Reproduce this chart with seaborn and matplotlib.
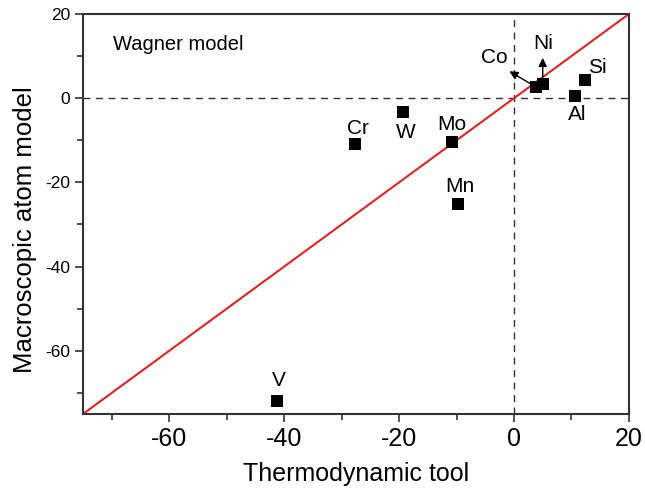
import matplotlib
matplotlib.use('Agg')
import matplotlib.pyplot as plt
from matplotlib.ticker import MultipleLocator
import seaborn as sns
import pandas as pd

elements = ['V', 'Cr', 'W', 'Mo', 'Mn', 'Co', 'Ni', 'Al', 'Si']
thermo_tool = [-41.2, -27.7, -19.3, -10.8, -9.7, 3.9, 5.0, 10.7, 12.4]
macro_atom = [-71.9, -10.9, -3.3, -10.4, -25.1, 2.6, 3.4, 0.6, 4.3]

df = pd.DataFrame({'element': elements, 'x': thermo_tool, 'y': macro_atom})

sns.set_style('ticks')
plt.rcParams['font.family'] = ['Liberation Sans', 'DejaVu Sans']
plt.rcParams['axes.unicode_minus'] = False
plt.rcParams['text.color'] = 'black'
plt.rcParams['axes.labelcolor'] = 'black'
plt.rcParams['xtick.labelcolor'] = 'black'
plt.rcParams['ytick.labelcolor'] = 'black'

fig = plt.figure(figsize=(6.45, 5.01), dpi=100)
ax = fig.add_axes([0.129, 0.174, 0.846, 0.798])

ax.axhline(0, color='#333333', lw=1, ls=(0, (5, 4)), zorder=1)
ax.axvline(0, color='#333333', lw=1, ls=(0, (5, 4)), zorder=1)
ax.axline((0, 0), slope=1, color='#e82020', lw=1.5, zorder=2)

sns.scatterplot(data=df, x='x', y='y', marker='s', s=78, color='black',
                edgecolor='black', linewidth=0, ax=ax, zorder=3)

# label offsets in pixels
offsets = {'V': (1, 20), 'Cr': (3, 16), 'W': (3, -20), 'Mo': (0, 17),
           'Mn': (2, 17), 'Co': (-42, 30), 'Ni': (0, 40), 'Al': (2, -19),
           'Si': (12, 13)}
for _, r in df.iterrows():
    ax.annotate(r['element'], (r['x'], r['y']), xytext=offsets[r['element']],
                textcoords='offset pixels', ha='center', va='center', fontsize=15)

arrows = {'Co': (-27, 16), 'Ni': (0, 26)}
for el, off in arrows.items():
    r = df[df['element'] == el].iloc[0]
    ax.annotate('', (r['x'], r['y']), xytext=off, textcoords='offset pixels',
                arrowprops=dict(arrowstyle='<|-,head_length=0.5,head_width=0.25',
                                color='black', lw=1, shrinkA=0, shrinkB=5))

ax.text(0.055, 0.925, 'Wagner model', transform=ax.transAxes, fontsize=14.5,
        va='center', ha='left')

ax.set_xlim(-75, 20)
ax.set_ylim(-75, 20)
ax.xaxis.set_major_locator(MultipleLocator(20))
ax.yaxis.set_major_locator(MultipleLocator(20))
ax.xaxis.set_minor_locator(MultipleLocator(10))
ax.yaxis.set_minor_locator(MultipleLocator(10))
ax.tick_params(axis='both', which='both', direction='out', width=1.2, color='#333333')
ax.tick_params(axis='both', which='major', length=6)
ax.tick_params(axis='both', which='minor', length=4)
ax.tick_params(axis='x', labelsize=18)
ax.tick_params(axis='y', labelsize=12.5)
for sp in ax.spines.values():
    sp.set_linewidth(1.5)
    sp.set_color('#333333')

ax.set_xlabel('Thermodynamic tool', fontsize=18, labelpad=8)
ax.set_ylabel('Macroscopic atom model', fontsize=18.5)
ax.yaxis.set_label_coords(-0.085, 0.46)

fig.savefig('out.png', dpi=100)
